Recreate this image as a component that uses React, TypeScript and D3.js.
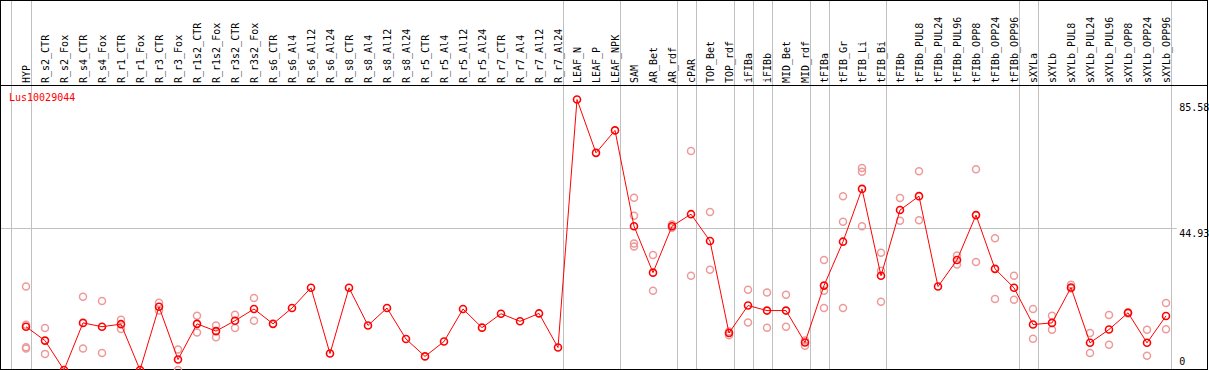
import * as d3 from 'd3';

const GENE = 'Lus10029044';

const samples = [
  'HYP', 'R_s2_CTR', 'R_s2_Fox', 'R_s4_CTR', 'R_s4_Fox', 'R_r1_CTR', 'R_r1_Fox', 'R_r3_CTR', 'R_r3_Fox',
  'R_r1s2_CTR', 'R_r1s2_Fox', 'R_r3s2_CTR', 'R_r3s2_Fox', 'R_s6_CTR', 'R_s6_Al4', 'R_s6_Al12', 'R_s6_Al24',
  'R_s8_CTR', 'R_s8_Al4', 'R_s8_Al12', 'R_s8_Al24', 'R_r5_CTR', 'R_r5_Al4', 'R_r5_Al12', 'R_r5_Al24',
  'R_r7_CTR', 'R_r7_Al4', 'R_r7_Al12', 'R_r7_Al24', 'LEAF_N', 'LEAF_P', 'LEAF_NPK', 'SAM', 'AR_Bet', 'AR_rdf',
  'cPAR', 'TOP_Bet', 'TOP_rdf', 'iFIBa', 'iFIBb', 'MID_Bet', 'MID_rdf', 'tFIBa', 'tFIB_Gr', 'tFIB_Li', 'tFIB_Bi',
  'tFIBb', 'tFIBb_PUL8', 'tFIBb_PUL24', 'tFIBb_PUL96', 'tFIBb_OPP8', 'tFIBb_OPP24', 'tFIBb_OPP96',
  'sXYLa', 'sXYLb', 'sXYLb_PUL8', 'sXYLb_PUL24', 'sXYLb_PUL96', 'sXYLb_OPP8', 'sXYLb_OPP24', 'sXYLb_OPP96',
];

// mean expression per sample
const means = [
  13.7, 9.3, 0, 14.9, 13.7, 14.5, 0, 20.0, 3.3,
  14.6, 12.3, 15.6, 19.3, 14.6, 19.6, 26.0, 5.2,
  26.0, 14.1, 19.6, 9.8, 4.3, 9.0, 19.3, 13.4,
  17.8, 15.4, 17.9, 7.1, 85.58, 68.7, 75.8, 45.5, 30.8, 45.5,
  49.3, 40.8, 11.7, 20.4, 18.8, 18.8, 8.7, 26.7, 40.6, 57.3, 29.8,
  50.6, 55.0, 26.4, 34.8, 49.0, 32.0, 26.0,
  14.4, 14.9, 26.1, 8.6, 12.8, 18.1, 8.6, 17.1,
];

// individual replicates (light circles)
const replicates: number[][] = [
  [26.4, 14.3, 7.2, 6.8], [13.3, 5.1], [], [23.2, 6.8], [21.8, 5.4], [15.9, 13.0], [], [21.3, 18.8], [6.5, 0],
  [17.2, 11.9], [14.1, 10.4], [17.5, 13.3], [22.8, 15.6], [], [], [], [],
  [], [], [], [], [], [], [], [],
  [], [], [], [], [], [], [], [54.5, 48.8, 40.0, 39.1], [36.4, 25.1], [46.0, 45.0],
  [69.3, 29.8], [50.0, 31.7], [12.2, 11.0], [25.4, 15.0], [24.5, 13.4], [23.8, 13.7], [9.3, 7.7],
  [34.8, 25.1, 19.6], [55.0, 46.9, 19.6], [63.9, 62.7, 45.5], [37.1, 31.4, 21.6],
  [54.4, 47.2], [62.9, 47.4], [], [36.2, 33.4], [63.5, 34.2], [41.7, 22.5], [29.8, 22.2],
  [19.3, 9.9], [17.2, 12.7], [27.0, 25.8], [11.7, 5.4], [17.4, 8.0], [18.3, 17.9], [12.7, 4.5], [21.2, 12.9],
];

// a divider is drawn after each of these samples
const groupEnds = [
  'HYP', 'R_r7_Al24', 'LEAF_NPK', 'AR_rdf', 'cPAR', 'TOP_rdf', 'iFIBa', 'iFIBb', 'MID_rdf',
  'tFIBa', 'tFIB_Bi', 'tFIBb_OPP96', 'sXYLa', 'sXYLb_OPP96',
];

const yTicks = [85.58, 44.93, 0];

const W = 1209, H = 370;
const HEADER = 85.5;
const FONT = '"DejaVu Sans Mono", monospace';
const RED = '#ff0000';
const PINK = '#ee9a9a';
const GRID = '#c0c0c0';

export default function App() {
  const x = d3.scalePoint<string>().domain(samples).range([26, 26 + 19 * (samples.length - 1)]);
  const step = x.step();
  const y = d3.scaleLinear().domain([0, d3.max(yTicks)!]).range([370, 99.5]);

  const line = d3.line<number>().x((_, i) => x(samples[i])!).y(d => y(d));
  const crisp = (v: number) => Math.round(v) + 0.5;

  const dividers = [x(samples[0])! - 15, ...groupEnds.map(s => x(s)! + step * 0.25)];
  const plotRight = x(samples[samples.length - 1])! + step * 0.25;

  return (
    <svg width={W} height={H} style={{ position: 'absolute', left: 0, top: 0, display: 'block', background: '#fff' }}>
      {dividers.map((d, i) => (
        <line key={i} x1={crisp(d)} x2={crisp(d)} y1={0} y2={H} stroke={GRID} strokeWidth={1} />
      ))}
      {yTicks.filter(t => t !== 0 && t !== d3.max(yTicks)).map(t => (
        <line key={t} x1={1} x2={plotRight + 6} y1={crisp(y(t))} y2={crisp(y(t))} stroke={GRID} strokeWidth={1} />
      ))}

      {/* borders */}
      <rect x={0.5} y={0.5} width={1207} height={369} fill="none" stroke="#000" strokeWidth={1} />
      <line x1={0} x2={1208} y1={HEADER} y2={HEADER} stroke="#000" strokeWidth={1} />

      {/* sample labels */}
      {samples.map(s => (
        <text key={s} transform={`translate(${x(s)! + 4},83) rotate(-90)`} fontFamily={FONT} fontSize={10} fill="#000">
          {s}
        </text>
      ))}

      <text x={9} y={101} fontFamily={FONT} fontSize={10} fill={RED}>{GENE}</text>

      {yTicks.map(t => (
        <text key={t} x={plotRight + 8.5} y={Math.min(Math.max(y(t) + 9, 111), 365)} fontFamily={FONT} fontSize={10} fill="#000">
          {t === 0 ? '0' : t.toFixed(2)}
        </text>
      ))}

      {/* replicates */}
      {replicates.map((reps, i) => reps.map((v, j) => (
        <circle key={`${i}-${j}`} cx={x(samples[i])!} cy={y(v)} r={3.5} fill="none" stroke={PINK} strokeWidth={1.5} />
      )))}

      <path d={line(means) ?? ''} fill="none" stroke={RED} strokeWidth={1} />

      {means.map((v, i) => (
        <circle key={i} cx={x(samples[i])!} cy={y(v)} r={3.5} fill="none" stroke={RED} strokeWidth={1.6} />
      ))}
    </svg>
  );
}
